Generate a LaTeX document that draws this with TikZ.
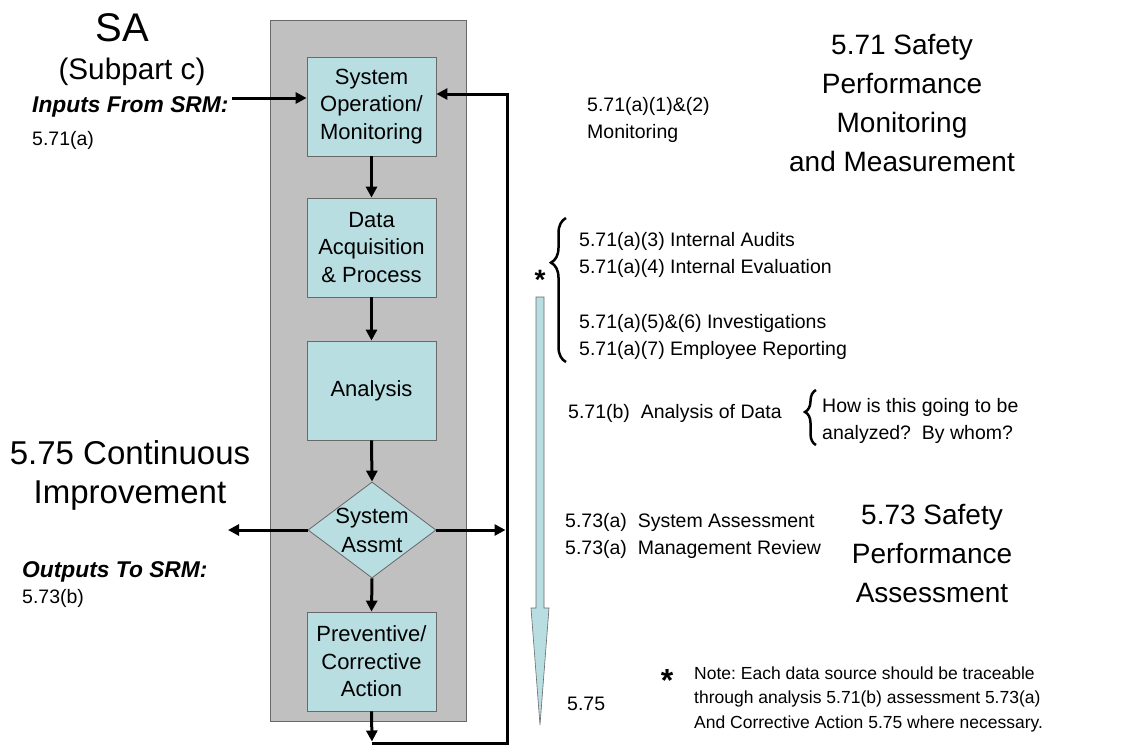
\documentclass[tikz,border=0pt]{standalone}
\usepackage{fontspec}
\setmainfont{Liberation Sans}
\usetikzlibrary{arrows.meta,shapes.geometric,decorations.pathreplacing}
\definecolor{boxfill}{RGB}{184,222,226}
\definecolor{panelgray}{RGB}{192,192,192}
\definecolor{edgegray}{RGB}{105,105,105}
\newcommand{\fsz}[2]{\fontsize{#1}{#2}\selectfont}
\frenchspacing
\begin{document}
\begin{tikzpicture}[x=1pt,y=-1pt,inner sep=0pt,
	stepbox/.style={draw=edgegray,fill=boxfill,line width=0.8pt,minimum width=129pt,minimum height=99pt,align=center,font=\fsz{22}{27.5}},
	decide/.style={diamond,draw=edgegray,fill=boxfill,line width=0.8pt,minimum width=128pt,minimum height=96pt},
	flow/.style={line width=3pt,-{Triangle[length=11pt,width=11pt]}},
	note/.style={align=left,font=\fsz{19.5}{27}},
	heading/.style={align=center,font=\fsz{28}{39}},
	brc/.style={decorate,line width=2.5pt}]
		\useasboundingbox (0,0) rectangle (1135,745);
		% grey panel behind the loop
		\draw[draw=edgegray,fill=panelgray,line width=0.8pt] (270,20) rectangle (466,721);
		\node[stepbox] (oper) at (371.5,106.5) {System\\Operation/\\Monitoring};
		\node[stepbox] (acq) at (371.5,247.5) {Data\\Acquisition\\\& Process};
		\node[stepbox] (anal) at (371.5,390.5) {Analysis};
		\node[decide] (assmt) at (372,530) {};
		\node[align=center,font=\fsz{22}{29}] (assmttxt) at (assmt) {System\\Assmt};
		\node[stepbox] (prev) at (371.5,661.5) {Preventive/\\Corrective\\Action};
		\coordinate (inp) at (232,98);
		\coordinate (outl) at (228,530);
		\coordinate (loopb) at (372,743);
		\coordinate (loopr) at (507,743);
		\coordinate (loopt) at (507,94);
		\draw[flow] (inp) -- (inp -| oper.west);
		\draw[flow] (oper.south) -- (acq.north);
		\draw[flow] (acq.south) -- (anal.north);
		\draw[flow] (anal.south) -- (assmt.north);
		\draw[flow] (assmt.south) -- (prev.north);
		\draw[flow,shorten >=1.5pt] (prev.south) -- (loopb);
		\draw[flow] (loopb) -- (loopr) -- (loopt) -- (loopt -| oper.east);
		\draw[flow] (assmt.west) -- (outl);
		\draw[flow,shorten >=1.5pt] (assmt.east) -- (assmt.east -| loopr);
		% long light blue arrow
		\draw[draw=edgegray,fill=boxfill,line width=0.6pt] (536,297) -- (544,297) -- (544,608) -- (549,608) -- (540,725) -- (531,608) -- (536,608) -- cycle;
		\node[anchor=base,font=\fsz{28}{30}\bfseries] (star) at (540,289) {*};
		% left side texts
		\node[font=\fsz{40}{42}] (sa) at (122,28) {SA};
		\node[font=\fsz{29.7}{32}] (subpart) at (132,72) {(Subpart c)};
		\node[right,font=\fsz{22.8}{26}\bfseries\itshape] (inlbl) at (32,107) {Inputs From SRM:};
		\node[right,note] (inref) at (32,140) {5.71(a)};
		\node[align=center,font=\fsz{33}{39}] (cont) at (130,475) {5.75 Continuous\\Improvement};
		\node[right,font=\fsz{22.8}{26}\bfseries\itshape] (outlbl) at (22,572) {Outputs To SRM:};
		\node[right,note] (outref) at (22,598) {5.73(b)};
		% right side texts
		\node[right,note] (mon) at (587,120) {5.71(a)(1)\&(2)\\Monitoring};
		\node[right,note] (audits) at (579,296) {5.71(a)(3) Internal Audits\\5.71(a)(4) Internal Evaluation\\[27.5pt]5.71(a)(5)\&(6) Investigations\\5.71(a)(7) Employee Reporting};
		\draw[brc,decoration={brace,amplitude=15pt,aspect=0.69}] (566,362) -- (566,218);
		\node[right,note] (anadata) at (568,413) {5.71(b)~~Analysis of Data};
		\draw[brc,decoration={brace,amplitude=11pt,aspect=0.6}] (816,445) -- (816,390);
		\node[right,note] (whom) at (822,421) {How is this going to be\\analyzed?~~By whom?};
		\node[right,note] (sysrev) at (565,536) {5.73(a)~~System Assessment\\5.73(a)~~Management Review};
		\node[right,note] (cia) at (567,704) {5.75};
		\node[heading] (spmm) at (902,103) {5.71 Safety\\Performance\\Monitoring\\and Measurement};
		\node[heading] (spa) at (932,553) {5.73 Safety\\Performance\\Assessment};
		\node[anchor=base,font=\fsz{32}{34}\bfseries] (notestar) at (667,691) {*};
		\node[right,align=left,font=\fsz{17.5}{24.5}] (notetxt) at (694,699) {Note: Each data source should be traceable\\through analysis 5.71(b) assessment 5.73(a)\\And Corrective Action 5.75 where necessary.};
	\end{tikzpicture}
\end{document}
